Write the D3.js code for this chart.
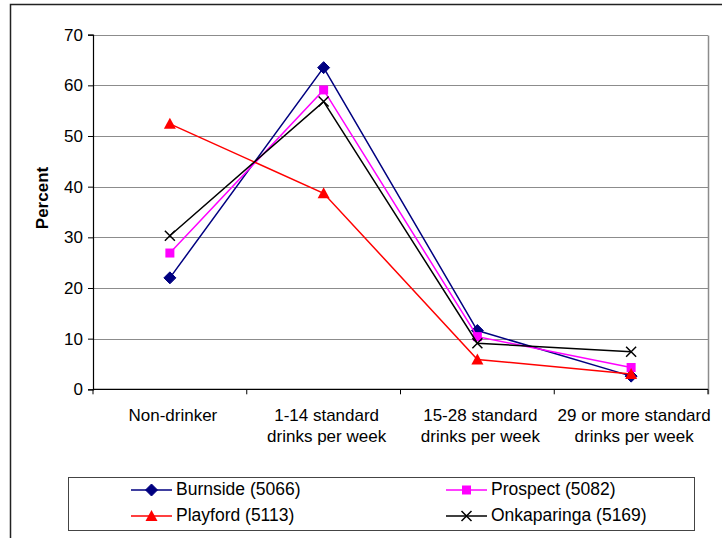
<!DOCTYPE html>
<html>
<head>
<meta charset="utf-8">
<script src="https://cdn.jsdelivr.net/npm/d3@7"></script>
<style>
  html, body { margin: 0; padding: 0; background: #fff; }
  svg { display: block; font-family: "Liberation Sans", Arial, sans-serif; }
</style>
</head>
<body>
<svg id="chart" width="722" height="538"></svg>
<script>
// Alcohol consumption categories
const categories = [
  ["Non-drinker"],
  ["1-14 standard", "drinks per week"],
  ["15-28 standard", "drinks per week"],
  ["29 or more standard", "drinks per week"]
];
const seriesNames = ["Burnside (5066)", "Prospect (5082)", "Playford (5113)", "Onkaparinga (5169)"];
const burnside    = [22.0, 63.5, 11.6, 2.6];
const prospect    = [26.9, 59.1, 10.4, 4.3];
const playford    = [52.4, 38.7, 5.9, 3.0];
const onkaparinga = [30.3, 56.8, 9.1, 7.4];
const yTicks = [0, 10, 20, 30, 40, 50, 60, 70];

const series = [
  { name: seriesNames[0], values: burnside,    color: "#000080", marker: "diamond" },
  { name: seriesNames[1], values: prospect,    color: "#FF00FF", marker: "square" },
  { name: seriesNames[2], values: playford,    color: "#FF0000", marker: "triangle" },
  { name: seriesNames[3], values: onkaparinga, color: "#000000", marker: "cross" }
];

const svg = d3.select("#chart");
const plot = { left: 93, right: 708, top: 34.7, bottom: 389.3 };

const x = d3.scaleBand()
  .domain(d3.range(categories.length))
  .range([plot.left, plot.right])
  .paddingInner(0).paddingOuter(0);
const y = d3.scaleLinear().domain([0, 70]).range([plot.bottom, plot.top]);

// Outer chart frame (top and left edges)
svg.append("path")
  .attr("d", `M10.5,538 V4.5 H722`)
  .attr("fill", "none").attr("stroke", "#222").attr("stroke-width", 1.5);

// Horizontal gridlines
svg.append("g").selectAll("line")
  .data(yTicks.filter(d => d > 0))
  .join("line")
  .attr("x1", plot.left).attr("x2", plot.right)
  .attr("y1", d => Math.round(y(d)) + 0.5).attr("y2", d => Math.round(y(d)) + 0.5)
  .attr("stroke", "#8c8c8c").attr("stroke-width", 1);

// Plot area border on the right
svg.append("line")
  .attr("x1", plot.right + 0.5).attr("x2", plot.right + 0.5)
  .attr("y1", Math.round(y(70)) + 0.5).attr("y2", plot.bottom + 5)
  .attr("stroke", "#8c8c8c").attr("stroke-width", 1.5);

// Y axis
const yAxis = d3.axisLeft(y).tickValues(yTicks).tickSize(5).tickPadding(5);
const gy = svg.append("g")
  .attr("transform", `translate(${plot.left},0)`)
  .call(yAxis);
gy.select(".domain").attr("stroke", "#000").attr("stroke-width", 1.2);
gy.selectAll(".tick line").attr("stroke", "#000");
gy.selectAll(".tick text")
  .attr("font-size", 17).attr("fill", "#000")
  .attr("font-family", "Liberation Sans, Arial, sans-serif");

// X axis: baseline with tick marks between categories
const gx = svg.append("g").attr("transform", `translate(0,${plot.bottom})`);
gx.append("line")
  .attr("x1", plot.left).attr("x2", plot.right)
  .attr("stroke", "#000").attr("stroke-width", 1.2);
const bounds = d3.range(categories.length + 1).map(i =>
  i < categories.length ? x(i) : x(i - 1) + x.bandwidth());
gx.selectAll(".xtick").data(bounds).join("line")
  .attr("class", "xtick")
  .attr("x1", d => d).attr("x2", d => d)
  .attr("y1", 0).attr("y2", 5)
  .attr("stroke", "#000").attr("stroke-width", 1);

const catText = gx.selectAll(".cat").data(categories).join("text")
  .attr("class", "cat")
  .attr("text-anchor", "middle")
  .attr("font-size", 17)
  .attr("fill", "#000");
catText.each(function(lines, i) {
  const t = d3.select(this);
  lines.forEach((ln, j) => {
    t.append("tspan")
      .attr("x", x(i) + x.bandwidth() / 2 + 3)
      .attr("y", 32 + j * 21)
      .text(ln);
  });
});

// Y axis title
svg.append("text")
  .attr("transform", `translate(48,198) rotate(-90)`)
  .attr("text-anchor", "middle")
  .attr("font-size", 17).attr("font-weight", "bold")
  .text("Percent");

// Marker drawing
function drawMarker(g, type, color, cx, cy) {
  if (type === "diamond") {
    g.append("path").attr("d", `M${cx},${cy - 6} L${cx + 6},${cy} L${cx},${cy + 6} L${cx - 6},${cy} Z`)
      .attr("fill", color).attr("stroke", color);
  } else if (type === "square") {
    g.append("rect").attr("x", cx - 4.5).attr("y", cy - 4.5).attr("width", 9).attr("height", 9)
      .attr("fill", color);
  } else if (type === "triangle") {
    g.append("path").attr("d", `M${cx},${cy - 6} L${cx + 6},${cy + 5} L${cx - 6},${cy + 5} Z`)
      .attr("fill", color);
  } else if (type === "cross") {
    g.append("path").attr("d", `M${cx - 5},${cy - 5} L${cx + 5},${cy + 5} M${cx - 5},${cy + 5} L${cx + 5},${cy - 5}`)
      .attr("stroke", color).attr("stroke-width", 1.5).attr("fill", "none");
  }
}

const line = d3.line()
  .x((d, i) => x(i) + x.bandwidth() / 2)
  .y(d => y(d));

const seriesG = svg.append("g");
series.forEach(s => {
  const g = seriesG.append("g");
  g.append("path")
    .datum(s.values)
    .attr("d", line)
    .attr("fill", "none")
    .attr("stroke", s.color)
    .attr("stroke-width", 1.5);
  s.values.forEach((v, i) => drawMarker(g, s.marker, s.color, x(i) + x.bandwidth() / 2, y(v)));
});

// Legend
const legend = svg.append("g");
legend.append("rect")
  .attr("x", 68.5).attr("y", 477.5).attr("width", 626).attr("height", 53)
  .attr("fill", "#fff").attr("stroke", "#444").attr("stroke-width", 1);
const legendPos = [
  { lx: 131, ly: 490 }, { lx: 446, ly: 490 },
  { lx: 131, ly: 516 }, { lx: 446, ly: 516 }
];
series.forEach((s, i) => {
  const p = legendPos[i];
  const g = legend.append("g");
  g.append("line")
    .attr("x1", p.lx).attr("x2", p.lx + 41)
    .attr("y1", p.ly).attr("y2", p.ly)
    .attr("stroke", s.color).attr("stroke-width", 1.5);
  drawMarker(g, s.marker, s.color, p.lx + 20.5, p.ly);
  g.append("text")
    .attr("x", p.lx + 45).attr("y", p.ly + 4.5)
    .attr("font-size", 17.5).attr("fill", "#000")
    .text(s.name);
});
</script>
</body>
</html>
